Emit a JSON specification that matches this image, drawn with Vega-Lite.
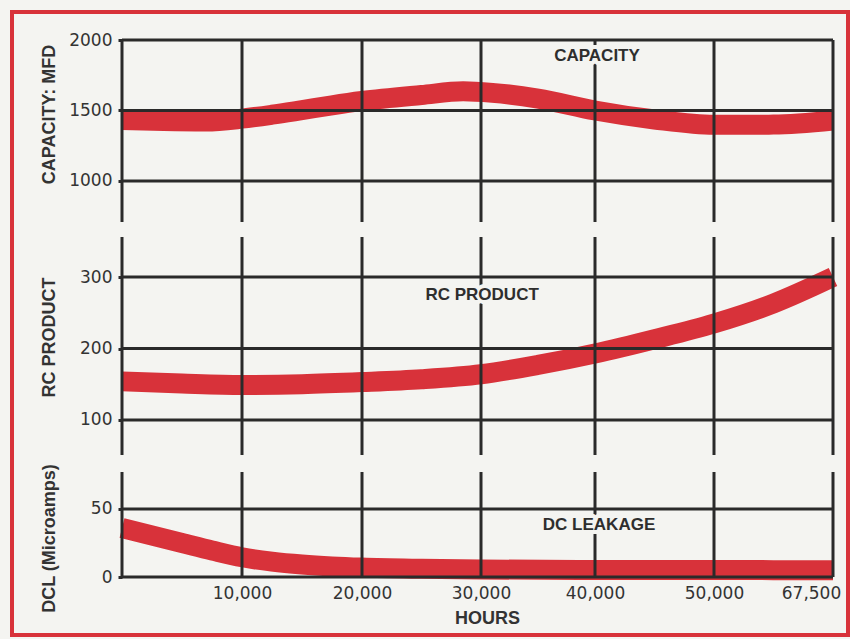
{
  "$schema": "https://vega.github.io/schema/vega-lite/v6.json",
  "width": 836,
  "height": 623,
  "autosize": {"type": "none"},
  "padding": {"left": 12, "top": 12, "right": 2, "bottom": 4},
  "background": "#f4f4f1",
  "config": {
    "view": {"stroke": "#d8323a", "strokeWidth": 4, "fill": "#f4f4f1"},
    "axis": {
      "labelFont": "DejaVu Sans",
      "labelFontSize": 17,
      "labelColor": "#333333",
      "titleFont": "Liberation Sans",
      "titleFontSize": 18,
      "titleFontWeight": "bold",
      "titleColor": "#333333",
      "grid": false,
      "domain": false,
      "tickColor": "#2a2a2a"
    }
  },
  "datasets": {
    "capacity": [
      {"hours": 0, "value": 1433}, {"hours": 3500, "value": 1425}, {"hours": 7000, "value": 1422},
      {"hours": 10000, "value": 1442}, {"hours": 12500, "value": 1470}, {"hours": 15000, "value": 1503},
      {"hours": 17500, "value": 1537}, {"hours": 20000, "value": 1567},
      {"hours": 25000, "value": 1610}, {"hours": 28500, "value": 1636}, {"hours": 31000, "value": 1625},
      {"hours": 35000, "value": 1585}, {"hours": 40000, "value": 1500}, {"hours": 45000, "value": 1436},
      {"hours": 50000, "value": 1398}, {"hours": 58750, "value": 1400}, {"hours": 67500, "value": 1429}
    ],
    "rc": [
      {"hours": 0, "value": 154}, {"hours": 5000, "value": 151}, {"hours": 10000, "value": 149},
      {"hours": 15000, "value": 150}, {"hours": 20000, "value": 153}, {"hours": 25000, "value": 157},
      {"hours": 30000, "value": 164}, {"hours": 35000, "value": 177}, {"hours": 40000, "value": 193},
      {"hours": 45000, "value": 213}, {"hours": 50000, "value": 235}, {"hours": 58750, "value": 263},
      {"hours": 67500, "value": 300}
    ],
    "dcl": [
      {"hours": 0, "value": 36}, {"hours": 2500, "value": 30.5}, {"hours": 5000, "value": 25},
      {"hours": 7500, "value": 19.5}, {"hours": 10000, "value": 14.5}, {"hours": 12500, "value": 11.3},
      {"hours": 15000, "value": 9.2}, {"hours": 17500, "value": 7.8}, {"hours": 20000, "value": 6.9},
      {"hours": 25000, "value": 6}, {"hours": 30000, "value": 5.5},
      {"hours": 40000, "value": 5.2}, {"hours": 50000, "value": 5.1}, {"hours": 67500, "value": 5}
    ],
    "xgrid": [
      {"hours": 0}, {"hours": 10000}, {"hours": 20000}, {"hours": 30000},
      {"hours": 40000}, {"hours": 50000}, {"hours": 67500}
    ],
    "ycap": [{"value": 1000}, {"value": 1500}, {"value": 2000}],
    "yrc": [{"value": 100}, {"value": 200}, {"value": 300}],
    "ydcl": [{"value": 0}, {"value": 50}]
  },
  "layer": [
    {
      "layer": [
        {
          "data": {"name": "capacity"},
          "mark": {"type": "line", "color": "#d8323a", "strokeWidth": 20, "interpolate": "monotone", "strokeCap": "butt"},
          "encoding": {
            "x": {"field": "hours", "type": "quantitative",
                  "scale": {"domain": [0, 10000, 20000, 30000, 40000, 50000, 67500], "range": [110, 230, 350, 469, 583, 702, 821], "nice": false, "zero": false},
                  "axis": {"orient": "bottom", "offset": -58, "values": [0, 10000, 20000, 30000, 40000, 50000, 67500], "labelExpr": "datum.value == 0 ? '' : format(datum.value, ',')", "labelFlush": false, "labelOverlap": false, "ticks": false, "labelPadding": 8, "labelOffset": {"condition": {"test": "datum.value == 67500", "value": -22}, "value": 0}, "title": "HOURS", "titleX": 475, "titleY": 46, "titleBaseline": "alphabetic", "titleAlign": "center"}},
            "y": {"field": "value", "type": "quantitative",
                  "scale": {"domain": [709, 2000], "range": [210, 28], "nice": false, "zero": false},
                  "axis": {"orient": "left", "offset": -110, "values": [1000, 1500, 2000], "format": "d", "tickSize": 4, "tickWidth": 3, "labelPadding": 6, "title": "CAPACITY: MFD", "titleX": -68, "titleY": 102, "titleAngle": 270, "titleBaseline": "alphabetic", "titleAlign": "center"}}
          }
        },
        {
          "data": {"name": "xgrid"},
          "mark": {"type": "rule", "color": "#2a2a2a", "strokeWidth": 3},
          "encoding": {
            "x": {"field": "hours", "type": "quantitative",
                  "axis": {"orient": "bottom", "offset": -58, "values": [0, 10000, 20000, 30000, 40000, 50000, 67500], "labelExpr": "datum.value == 0 ? '' : format(datum.value, ',')", "labelFlush": false, "labelOverlap": false, "ticks": false, "labelPadding": 8, "labelOffset": {"condition": {"test": "datum.value == 67500", "value": -22}, "value": 0}, "title": "HOURS", "titleX": 475, "titleY": 46, "titleBaseline": "alphabetic", "titleAlign": "center"}},
            "y": {"datum": 2000, "type": "quantitative",
                  "axis": {"orient": "left", "offset": -110, "values": [1000, 1500, 2000], "format": "d", "tickSize": 4, "tickWidth": 3, "labelPadding": 6, "title": "CAPACITY: MFD", "titleX": -68, "titleY": 102, "titleAngle": 270, "titleBaseline": "alphabetic", "titleAlign": "center"}},
            "y2": {"datum": 709}
          }
        },
        {
          "data": {"name": "ycap"},
          "mark": {"type": "rule", "color": "#2a2a2a", "strokeWidth": 3},
          "encoding": {
            "y": {"field": "value", "type": "quantitative",
                  "axis": {"orient": "left", "offset": -110, "values": [1000, 1500, 2000], "format": "d", "tickSize": 4, "tickWidth": 3, "labelPadding": 6, "title": "CAPACITY: MFD", "titleX": -68, "titleY": 102, "titleAngle": 270, "titleBaseline": "alphabetic", "titleAlign": "center"}},
            "x": {"datum": 0, "type": "quantitative",
                  "axis": {"orient": "bottom", "offset": -58, "values": [0, 10000, 20000, 30000, 40000, 50000, 67500], "labelExpr": "datum.value == 0 ? '' : format(datum.value, ',')", "labelFlush": false, "labelOverlap": false, "ticks": false, "labelPadding": 8, "labelOffset": {"condition": {"test": "datum.value == 67500", "value": -22}, "value": 0}, "title": "HOURS", "titleX": 475, "titleY": 46, "titleBaseline": "alphabetic", "titleAlign": "center"}},
            "x2": {"datum": 67500}
          }
        },
        {
          "data": {"values": [{"label": "CAPACITY"}]},
          "mark": {"type": "text", "font": "Liberation Sans", "fontSize": 17, "fontWeight": "bold", "color": "#f4f4f1", "stroke": "#f4f4f1", "strokeWidth": 8, "strokeJoin": "round", "align": "center", "baseline": "middle"},
          "encoding": {
            "x": {"datum": 40170, "type": "quantitative",
                  "axis": {"orient": "bottom", "offset": -58, "values": [0, 10000, 20000, 30000, 40000, 50000, 67500], "labelExpr": "datum.value == 0 ? '' : format(datum.value, ',')", "labelFlush": false, "labelOverlap": false, "ticks": false, "labelPadding": 8, "labelOffset": {"condition": {"test": "datum.value == 67500", "value": -22}, "value": 0}, "title": "HOURS", "titleX": 475, "titleY": 46, "titleBaseline": "alphabetic", "titleAlign": "center"}},
            "y": {"datum": 1883, "type": "quantitative",
                  "axis": {"orient": "left", "offset": -110, "values": [1000, 1500, 2000], "format": "d", "tickSize": 4, "tickWidth": 3, "labelPadding": 6, "title": "CAPACITY: MFD", "titleX": -68, "titleY": 102, "titleAngle": 270, "titleBaseline": "alphabetic", "titleAlign": "center"}},
            "text": {"field": "label"}
          }
        },
        {
          "data": {"values": [{"label": "CAPACITY"}]},
          "mark": {"type": "text", "font": "Liberation Sans", "fontSize": 17, "fontWeight": "bold", "color": "#2e2e2e", "align": "center", "baseline": "middle"},
          "encoding": {
            "x": {"datum": 40170, "type": "quantitative",
                  "axis": {"orient": "bottom", "offset": -58, "values": [0, 10000, 20000, 30000, 40000, 50000, 67500], "labelExpr": "datum.value == 0 ? '' : format(datum.value, ',')", "labelFlush": false, "labelOverlap": false, "ticks": false, "labelPadding": 8, "labelOffset": {"condition": {"test": "datum.value == 67500", "value": -22}, "value": 0}, "title": "HOURS", "titleX": 475, "titleY": 46, "titleBaseline": "alphabetic", "titleAlign": "center"}},
            "y": {"datum": 1883, "type": "quantitative",
                  "axis": {"orient": "left", "offset": -110, "values": [1000, 1500, 2000], "format": "d", "tickSize": 4, "tickWidth": 3, "labelPadding": 6, "title": "CAPACITY: MFD", "titleX": -68, "titleY": 102, "titleAngle": 270, "titleBaseline": "alphabetic", "titleAlign": "center"}},
            "text": {"field": "label"}
          }
        }
      ]
    },
    {
      "layer": [
        {
          "data": {"name": "rc"},
          "mark": {"type": "line", "color": "#d8323a", "strokeWidth": 20, "interpolate": "monotone", "strokeCap": "butt"},
          "encoding": {
            "x": {"field": "hours", "type": "quantitative",
                  "scale": {"domain": [0, 10000, 20000, 30000, 40000, 50000, 67500], "range": [110, 230, 350, 469, 583, 702, 821], "nice": false, "zero": false},
                  "axis": {"orient": "bottom", "offset": -58, "values": [0, 10000, 20000, 30000, 40000, 50000, 67500], "labelExpr": "datum.value == 0 ? '' : format(datum.value, ',')", "labelFlush": false, "labelOverlap": false, "ticks": false, "labelPadding": 8, "labelOffset": {"condition": {"test": "datum.value == 67500", "value": -22}, "value": 0}, "title": "HOURS", "titleX": 475, "titleY": 46, "titleBaseline": "alphabetic", "titleAlign": "center"}},
            "y": {"field": "value", "type": "quantitative",
                  "scale": {"domain": [51, 356], "range": [443, 225], "nice": false, "zero": false},
                  "axis": {"orient": "left", "offset": -110, "values": [100, 200, 300], "format": "d", "tickSize": 4, "tickWidth": 3, "labelPadding": 6, "title": "RC PRODUCT", "titleX": -68, "titleY": 325, "titleAngle": 270, "titleBaseline": "alphabetic", "titleAlign": "center"}}
          }
        },
        {
          "data": {"name": "xgrid"},
          "mark": {"type": "rule", "color": "#2a2a2a", "strokeWidth": 3},
          "encoding": {
            "x": {"field": "hours", "type": "quantitative",
                  "axis": {"orient": "bottom", "offset": -58, "values": [0, 10000, 20000, 30000, 40000, 50000, 67500], "labelExpr": "datum.value == 0 ? '' : format(datum.value, ',')", "labelFlush": false, "labelOverlap": false, "ticks": false, "labelPadding": 8, "labelOffset": {"condition": {"test": "datum.value == 67500", "value": -22}, "value": 0}, "title": "HOURS", "titleX": 475, "titleY": 46, "titleBaseline": "alphabetic", "titleAlign": "center"}},
            "y": {"datum": 356, "type": "quantitative",
                  "axis": {"orient": "left", "offset": -110, "values": [100, 200, 300], "format": "d", "tickSize": 4, "tickWidth": 3, "labelPadding": 6, "title": "RC PRODUCT", "titleX": -68, "titleY": 325, "titleAngle": 270, "titleBaseline": "alphabetic", "titleAlign": "center"}},
            "y2": {"datum": 51}
          }
        },
        {
          "data": {"name": "yrc"},
          "mark": {"type": "rule", "color": "#2a2a2a", "strokeWidth": 3},
          "encoding": {
            "y": {"field": "value", "type": "quantitative",
                  "axis": {"orient": "left", "offset": -110, "values": [100, 200, 300], "format": "d", "tickSize": 4, "tickWidth": 3, "labelPadding": 6, "title": "RC PRODUCT", "titleX": -68, "titleY": 325, "titleAngle": 270, "titleBaseline": "alphabetic", "titleAlign": "center"}},
            "x": {"datum": 0, "type": "quantitative",
                  "axis": {"orient": "bottom", "offset": -58, "values": [0, 10000, 20000, 30000, 40000, 50000, 67500], "labelExpr": "datum.value == 0 ? '' : format(datum.value, ',')", "labelFlush": false, "labelOverlap": false, "ticks": false, "labelPadding": 8, "labelOffset": {"condition": {"test": "datum.value == 67500", "value": -22}, "value": 0}, "title": "HOURS", "titleX": 475, "titleY": 46, "titleBaseline": "alphabetic", "titleAlign": "center"}},
            "x2": {"datum": 67500}
          }
        },
        {
          "data": {"values": [{"label": "RC PRODUCT"}]},
          "mark": {"type": "text", "font": "Liberation Sans", "fontSize": 17, "fontWeight": "bold", "color": "#f4f4f1", "stroke": "#f4f4f1", "strokeWidth": 8, "strokeJoin": "round", "align": "center", "baseline": "middle"},
          "encoding": {
            "x": {"datum": 30100, "type": "quantitative",
                  "axis": {"orient": "bottom", "offset": -58, "values": [0, 10000, 20000, 30000, 40000, 50000, 67500], "labelExpr": "datum.value == 0 ? '' : format(datum.value, ',')", "labelFlush": false, "labelOverlap": false, "ticks": false, "labelPadding": 8, "labelOffset": {"condition": {"test": "datum.value == 67500", "value": -22}, "value": 0}, "title": "HOURS", "titleX": 475, "titleY": 46, "titleBaseline": "alphabetic", "titleAlign": "center"}},
            "y": {"datum": 275, "type": "quantitative",
                  "axis": {"orient": "left", "offset": -110, "values": [100, 200, 300], "format": "d", "tickSize": 4, "tickWidth": 3, "labelPadding": 6, "title": "RC PRODUCT", "titleX": -68, "titleY": 325, "titleAngle": 270, "titleBaseline": "alphabetic", "titleAlign": "center"}},
            "text": {"field": "label"}
          }
        },
        {
          "data": {"values": [{"label": "RC PRODUCT"}]},
          "mark": {"type": "text", "font": "Liberation Sans", "fontSize": 17, "fontWeight": "bold", "color": "#2e2e2e", "align": "center", "baseline": "middle"},
          "encoding": {
            "x": {"datum": 30100, "type": "quantitative",
                  "axis": {"orient": "bottom", "offset": -58, "values": [0, 10000, 20000, 30000, 40000, 50000, 67500], "labelExpr": "datum.value == 0 ? '' : format(datum.value, ',')", "labelFlush": false, "labelOverlap": false, "ticks": false, "labelPadding": 8, "labelOffset": {"condition": {"test": "datum.value == 67500", "value": -22}, "value": 0}, "title": "HOURS", "titleX": 475, "titleY": 46, "titleBaseline": "alphabetic", "titleAlign": "center"}},
            "y": {"datum": 275, "type": "quantitative",
                  "axis": {"orient": "left", "offset": -110, "values": [100, 200, 300], "format": "d", "tickSize": 4, "tickWidth": 3, "labelPadding": 6, "title": "RC PRODUCT", "titleX": -68, "titleY": 325, "titleAngle": 270, "titleBaseline": "alphabetic", "titleAlign": "center"}},
            "text": {"field": "label"}
          }
        }
      ]
    },
    {
      "layer": [
        {
          "data": {"name": "dcl"},
          "mark": {"type": "line", "color": "#d8323a", "strokeWidth": 20, "interpolate": "monotone", "strokeCap": "butt"},
          "encoding": {
            "x": {"field": "hours", "type": "quantitative",
                  "scale": {"domain": [0, 10000, 20000, 30000, 40000, 50000, 67500], "range": [110, 230, 350, 469, 583, 702, 821], "nice": false, "zero": false},
                  "axis": {"orient": "bottom", "offset": -58, "values": [0, 10000, 20000, 30000, 40000, 50000, 67500], "labelExpr": "datum.value == 0 ? '' : format(datum.value, ',')", "labelFlush": false, "labelOverlap": false, "ticks": false, "labelPadding": 8, "labelOffset": {"condition": {"test": "datum.value == 67500", "value": -22}, "value": 0}, "title": "HOURS", "titleX": 475, "titleY": 46, "titleBaseline": "alphabetic", "titleAlign": "center"}},
            "y": {"field": "value", "type": "quantitative",
                  "scale": {"domain": [0, 77.2], "range": [565, 460], "nice": false, "zero": false},
                  "axis": {"orient": "left", "offset": -110, "values": [0, 50], "format": "d", "tickSize": 4, "tickWidth": 3, "labelPadding": 6, "title": "DCL (Microamps)", "titleX": -68, "titleY": 526, "titleAngle": 270, "titleBaseline": "alphabetic", "titleAlign": "center"}}
          }
        },
        {
          "data": {"name": "xgrid"},
          "mark": {"type": "rule", "color": "#2a2a2a", "strokeWidth": 3},
          "encoding": {
            "x": {"field": "hours", "type": "quantitative",
                  "axis": {"orient": "bottom", "offset": -58, "values": [0, 10000, 20000, 30000, 40000, 50000, 67500], "labelExpr": "datum.value == 0 ? '' : format(datum.value, ',')", "labelFlush": false, "labelOverlap": false, "ticks": false, "labelPadding": 8, "labelOffset": {"condition": {"test": "datum.value == 67500", "value": -22}, "value": 0}, "title": "HOURS", "titleX": 475, "titleY": 46, "titleBaseline": "alphabetic", "titleAlign": "center"}},
            "y": {"datum": 77.2, "type": "quantitative",
                  "axis": {"orient": "left", "offset": -110, "values": [0, 50], "format": "d", "tickSize": 4, "tickWidth": 3, "labelPadding": 6, "title": "DCL (Microamps)", "titleX": -68, "titleY": 526, "titleAngle": 270, "titleBaseline": "alphabetic", "titleAlign": "center"}},
            "y2": {"datum": 0}
          }
        },
        {
          "data": {"name": "ydcl"},
          "mark": {"type": "rule", "color": "#2a2a2a", "strokeWidth": 3},
          "encoding": {
            "y": {"field": "value", "type": "quantitative",
                  "axis": {"orient": "left", "offset": -110, "values": [0, 50], "format": "d", "tickSize": 4, "tickWidth": 3, "labelPadding": 6, "title": "DCL (Microamps)", "titleX": -68, "titleY": 526, "titleAngle": 270, "titleBaseline": "alphabetic", "titleAlign": "center"}},
            "x": {"datum": 0, "type": "quantitative",
                  "axis": {"orient": "bottom", "offset": -58, "values": [0, 10000, 20000, 30000, 40000, 50000, 67500], "labelExpr": "datum.value == 0 ? '' : format(datum.value, ',')", "labelFlush": false, "labelOverlap": false, "ticks": false, "labelPadding": 8, "labelOffset": {"condition": {"test": "datum.value == 67500", "value": -22}, "value": 0}, "title": "HOURS", "titleX": 475, "titleY": 46, "titleBaseline": "alphabetic", "titleAlign": "center"}},
            "x2": {"datum": 67500}
          }
        },
        {
          "data": {"values": [{"label": "DC LEAKAGE"}]},
          "mark": {"type": "text", "font": "Liberation Sans", "fontSize": 17, "fontWeight": "bold", "color": "#f4f4f1", "stroke": "#f4f4f1", "strokeWidth": 8, "strokeJoin": "round", "align": "center", "baseline": "middle"},
          "encoding": {
            "x": {"datum": 40340, "type": "quantitative",
                  "axis": {"orient": "bottom", "offset": -58, "values": [0, 10000, 20000, 30000, 40000, 50000, 67500], "labelExpr": "datum.value == 0 ? '' : format(datum.value, ',')", "labelFlush": false, "labelOverlap": false, "ticks": false, "labelPadding": 8, "labelOffset": {"condition": {"test": "datum.value == 67500", "value": -22}, "value": 0}, "title": "HOURS", "titleX": 475, "titleY": 46, "titleBaseline": "alphabetic", "titleAlign": "center"}},
            "y": {"datum": 38.2, "type": "quantitative",
                  "axis": {"orient": "left", "offset": -110, "values": [0, 50], "format": "d", "tickSize": 4, "tickWidth": 3, "labelPadding": 6, "title": "DCL (Microamps)", "titleX": -68, "titleY": 526, "titleAngle": 270, "titleBaseline": "alphabetic", "titleAlign": "center"}},
            "text": {"field": "label"}
          }
        },
        {
          "data": {"values": [{"label": "DC LEAKAGE"}]},
          "mark": {"type": "text", "font": "Liberation Sans", "fontSize": 17, "fontWeight": "bold", "color": "#2e2e2e", "align": "center", "baseline": "middle"},
          "encoding": {
            "x": {"datum": 40340, "type": "quantitative",
                  "axis": {"orient": "bottom", "offset": -58, "values": [0, 10000, 20000, 30000, 40000, 50000, 67500], "labelExpr": "datum.value == 0 ? '' : format(datum.value, ',')", "labelFlush": false, "labelOverlap": false, "ticks": false, "labelPadding": 8, "labelOffset": {"condition": {"test": "datum.value == 67500", "value": -22}, "value": 0}, "title": "HOURS", "titleX": 475, "titleY": 46, "titleBaseline": "alphabetic", "titleAlign": "center"}},
            "y": {"datum": 38.2, "type": "quantitative",
                  "axis": {"orient": "left", "offset": -110, "values": [0, 50], "format": "d", "tickSize": 4, "tickWidth": 3, "labelPadding": 6, "title": "DCL (Microamps)", "titleX": -68, "titleY": 526, "titleAngle": 270, "titleBaseline": "alphabetic", "titleAlign": "center"}},
            "text": {"field": "label"}
          }
        }
      ]
    }
  ],
  "resolve": {"scale": {"y": "independent"}, "axis": {"y": "independent"}}
}
